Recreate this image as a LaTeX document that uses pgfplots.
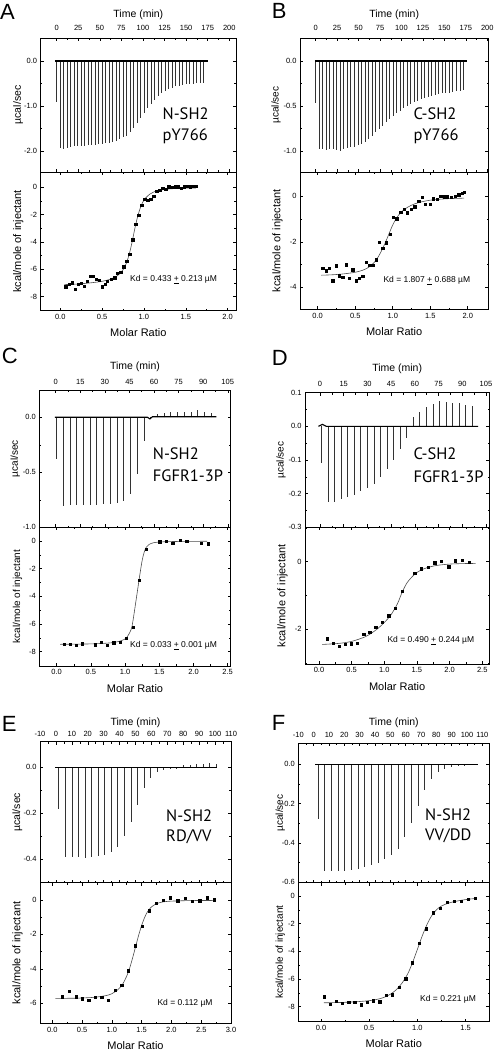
\documentclass[border=0pt]{standalone}
\usepackage{fontspec}
\setmainfont{Liberation Sans}
\newfontfamily\annot{PT Sans}
\usepackage{pgfplots}
\usetikzlibrary{calc}
\pgfplotsset{compat=1.18}
\pgfplotsset{
  ylab off/.style={every axis y label/.style={at={($(axis description cs:0,0.5)+(#1,0pt)$)}, rotate=90, anchor=center}},
  itc/.style={
    scale only axis, anchor=north west,
    axis line style={line width=0.55pt},
    tick style={line width=0.5pt, black},
    major tick length=3pt, minor tick length=1.8pt,
    tick align=inside,
    ticklabel style={font=\fontsize{7.5}{8}\selectfont},
    /pgf/number format/assume math mode=true,
    scaled ticks=false,
    minor x tick num=1, minor y tick num=1,
    ylab off=-22.5pt,
  },
  rawax/.style={itc,
    xticklabel pos=upper,
    yticklabel style={/pgf/number format/.cd, fixed, fixed zerofill, precision=1},
    every axis x label/.style={at={(axis description cs:0.5,1)}, anchor=base},
    label style={font=\fontsize{10.5}{11}\selectfont},
    xlabel={Time (min)}, ylabel={µcal/sec},
  },
  isoax/.style={itc,
    xticklabel style={/pgf/number format/.cd, fixed, fixed zerofill, precision=1},
    every axis x label/.style={at={(axis description cs:0.5,0)}, anchor=base, yshift=-26pt},
    label style={font=\fontsize{11}{12}\selectfont},
    xlabel={Molar Ratio}, ylabel={kcal/mole of injectant},
  },
  spike/.style={ycomb, no marks, line width=0.8pt, black!80},
  base/.style={no marks, line width=1.1pt, black},
  pts/.style={only marks, mark=square*, mark size=1.2pt, black},
  fit/.style={no marks, smooth, line width=0.6pt, black!70},
}
\tikzset{kd/.style={anchor=base west, inner sep=0pt, font=\fontsize{8.5}{9}\selectfont},
  ann/.style={anchor=base west, inner sep=0pt, font=\annot\fontsize{16.5}{17}\selectfont},
  let/.style={anchor=base west, inner sep=0pt, font=\fontsize{22}{22}\selectfont}}
\begin{document}
\begin{tikzpicture}
\path[use as bounding box] (0pt,0pt) rectangle (497pt,-1050pt);

% ---------------- A top
\begin{axis}[rawax, at={(40.7pt,-38pt)}, width=195.3pt, height=134pt,
  xmin=-18.5, xmax=207.8, ymin=-2.467, ymax=0.511,
  xtick={0,25,...,200}, ytick={-2,-1,0},
  xlabel style={yshift=20.7pt}, xticklabel style={yshift=3.5pt}]
\addplot[spike] coordinates {(0,-0.92)(4.06,-1.93)(8.12,-1.95)(12.18,-1.94)(16.24,-1.92)(20.3,-1.90)(24.36,-1.90)(28.42,-1.89)(32.48,-1.88)(36.54,-1.87)(40.6,-1.86)(44.66,-1.86)(48.72,-1.85)(52.78,-1.84)(56.84,-1.83)(60.9,-1.82)(64.96,-1.80)(69.02,-1.77)(73.08,-1.73)(77.14,-1.70)(81.2,-1.66)(85.26,-1.58)(89.32,-1.49)(93.38,-1.38)(97.44,-1.27)(101.5,-1.15)(105.56,-1.05)(109.62,-0.95)(113.68,-0.86)(117.74,-0.78)(121.8,-0.72)(125.86,-0.66)(129.92,-0.62)(133.98,-0.59)(138.04,-0.56)(142.1,-0.55)(146.16,-0.54)(150.22,-0.52)(154.28,-0.51)(158.34,-0.51)(162.4,-0.50)(166.46,-0.49)(170.52,-0.48)};
\addplot[base] coordinates {(-2,0)(175,0)};
\end{axis}
% ---------------- A bottom
\begin{axis}[isoax, at={(40.7pt,-172pt)}, width=195.3pt, height=138.7pt,
  xmin=-0.234, xmax=2.1, ymin=-9.03, ymax=1.12,
  xtick={0,0.5,1,1.5,2}, ytick={-8,-6,-4,-2,0}]
\addplot[pts] coordinates {(0.064,-7.27)(0.104,-7.1)(0.139,-6.98)(0.175,-7.44)(0.211,-7.07)(0.247,-7.02)(0.283,-7.24)(0.323,-6.85)(0.355,-6.49)(0.394,-6.49)(0.43,-6.73)(0.466,-6.78)(0.502,-7.27)(0.538,-7.07)(0.562,-6.88)(0.61,-6.71)(0.649,-6.61)(0.681,-6.29)(0.721,-6.22)(0.757,-5.8)(0.793,-5.41)(0.829,-4.88)(0.865,-3.83)(0.9,-2.68)(0.936,-2.02)(0.972,-1.32)(1.008,-0.85)(1.044,-0.93)(1.08,-0.88)(1.116,-0.63)(1.151,-0.29)(1.187,-0.2)(1.223,-0.07)(1.259,-0.15)(1.295,0.05)(1.331,0)(1.371,0.05)(1.406,0.05)(1.442,-0.07)(1.478,0.05)(1.514,0.1)(1.55,0.05)(1.59,0.1)(1.625,0.1)};
\addplot[fit] coordinates {(0.05,-7.12)(0.2,-7.08)(0.35,-7.0)(0.5,-6.88)(0.6,-6.72)(0.68,-6.48)(0.74,-6.12)(0.79,-5.55)(0.83,-4.75)(0.86,-3.95)(0.89,-3.05)(0.92,-2.25)(0.95,-1.62)(0.98,-1.15)(1.02,-0.78)(1.07,-0.5)(1.12,-0.33)(1.2,-0.2)(1.3,-0.12)(1.45,-0.07)(1.62,-0.05)};
\end{axis}

% ---------------- B top
\begin{axis}[rawax, at={(300pt,-38pt)}, width=188.3pt, height=134pt,
  xmin=-18.3, xmax=201.2, ymin=-1.233, ymax=0.256,
  xtick={0,25,...,200}, ytick={-1,-0.5,0},
  xlabel style={yshift=21pt}, xticklabel style={yshift=3.5pt}, ylab off=-24pt]
\addplot[spike] coordinates {(0,-0.47)(4.1,-0.98)(8.2,-0.98)(12.3,-0.99)(16.4,-0.98)(20.5,-0.98)(24.6,-0.99)(28.7,-1.00)(32.8,-0.98)(36.9,-0.97)(41,-0.96)(45.1,-0.95)(49.2,-0.93)(53.3,-0.92)(57.4,-0.90)(61.5,-0.87)(65.6,-0.83)(69.7,-0.79)(73.8,-0.76)(77.9,-0.72)(82,-0.68)(86.1,-0.64)(90.2,-0.61)(94.3,-0.58)(98.4,-0.55)(102.5,-0.52)(106.6,-0.50)(110.7,-0.48)(114.8,-0.46)(118.9,-0.44)(123,-0.42)(127.1,-0.41)(131.2,-0.40)(135.3,-0.39)(139.4,-0.38)(143.5,-0.37)(147.6,-0.36)(151.7,-0.35)(155.8,-0.35)(159.9,-0.34)(164,-0.33)(168.1,-0.33)(172.2,-0.32)};
\addplot[base] coordinates {(-1,0)(176,0)};
\end{axis}
% ---------------- B bottom
\begin{axis}[isoax, at={(300pt,-172pt)}, width=188.3pt, height=137.3pt,
  xmin=-0.236, xmax=2.274, ymin=-4.97, ymax=1.07,
  xtick={0,0.5,1,1.5,2}, ytick={-4,-2,0}]
\addplot[pts] coordinates {(0.067,-3.15)(0.116,-3.27)(0.156,-3.17)(0.2,-3.72)(0.249,-3.05)(0.289,-3.49)(0.333,-3.55)(0.382,-3.01)(0.422,-3.61)(0.467,-3.23)(0.511,-3.71)(0.556,-3.61)(0.6,-3.52)(0.644,-2.91)(0.689,-3.02)(0.733,-3.04)(0.778,-2.79)(0.822,-2.03)(0.867,-2.29)(0.911,-2.04)(0.964,-1.66)(1.009,-0.92)(1.053,-0.99)(1.107,-0.69)(1.151,-0.57)(1.196,-0.72)(1.249,-0.57)(1.293,-0.45)(1.347,-0.22)(1.391,-0.04)(1.436,-0.34)(1.498,-0.34)(1.542,-0.1)(1.596,-0.13)(1.64,0.01)(1.684,-0.01)(1.729,-0.01)(1.782,-0.04)(1.836,0.01)(1.88,0.07)(1.924,0.13)(1.951,0.19)};
\addplot[fit] coordinates {(0.05,-3.47)(0.2,-3.45)(0.35,-3.41)(0.5,-3.34)(0.6,-3.25)(0.68,-3.12)(0.75,-2.92)(0.8,-2.7)(0.85,-2.4)(0.9,-2.05)(0.95,-1.65)(1.0,-1.26)(1.05,-0.96)(1.1,-0.74)(1.17,-0.54)(1.25,-0.39)(1.35,-0.27)(1.5,-0.17)(1.7,-0.11)(1.95,-0.08)};
\end{axis}

% ---------------- C top
\begin{axis}[rawax, at={(39.3pt,-390pt)}, width=191.4pt, height=137.3pt,
  xmin=-10, xmax=106.8, ymin=-1.0, ymax=0.248,
  xtick={0,15,...,105}, ytick={-1,-0.5,0},
  xlabel style={yshift=20.7pt}, xticklabel style={yshift=1.5pt}, ylab off=-24pt]
\addplot[spike, line width=1pt] coordinates {(0.6,-0.38)(4.7,-0.81)(8.8,-0.80)(12.9,-0.80)(17,-0.80)(21.1,-0.80)(25.2,-0.80)(29.3,-0.79)(33.4,-0.79)(37.5,-0.78)(41.6,-0.76)(45.7,-0.70)(49.8,-0.52)(53.9,-0.22)(58,-0.02)(62.1,0.03)(66.2,0.04)(70.3,0.05)(74.4,0.05)(78.5,0.05)(82.6,0.05)(86.7,0.065)(90.8,0.05)(94.9,0.04)};
\addplot[base] coordinates {(-0.5,0)(56,0)(57.5,-0.015)(59,0.005)(98,0.005)};
\end{axis}
% ---------------- C bottom
\begin{axis}[isoax, at={(39.3pt,-527.3pt)}, width=191.4pt, height=138.7pt,
  xmin=-0.254, xmax=2.544, ymin=-9.04, ymax=0.99,
  xtick={0,0.5,1,1.5,2,2.5}, ytick={-8,-6,-4,-2,0}, ylab off=-21.8pt]
\addplot[pts] coordinates {(0.112,-7.47)(0.195,-7.45)(0.288,-7.52)(0.375,-7.42)(0.56,-7.49)(0.648,-7.33)(0.741,-7.54)(0.833,-7.35)(0.926,-7.3)(1.019,-7.04)(1.116,-6.24)(1.209,-2.82)(1.306,-0.58)(1.506,-0.05)(1.598,0)(1.696,-0.14)(1.803,0.05)(1.9,0)(2.11,-0.17)(2.212,-0.19)};
\addplot[fit] coordinates {(0.05,-7.47)(0.5,-7.44)(0.8,-7.36)(0.95,-7.2)(1.02,-7.0)(1.07,-6.6)(1.1,-6.2)(1.13,-5.3)(1.16,-4.3)(1.19,-3.3)(1.22,-2.3)(1.25,-1.4)(1.28,-0.8)(1.31,-0.45)(1.35,-0.25)(1.42,-0.12)(1.55,-0.06)(1.8,-0.03)(2.2,-0.02)};
\end{axis}

% ---------------- D top
\begin{axis}[rawax, at={(305pt,-392.7pt)}, width=184.3pt, height=134.6pt,
  xmin=-9.5, xmax=107.1, ymin=-0.3, ymax=0.1,
  xtick={0,15,...,105}, ytick={-0.3,-0.2,-0.1,0,0.1},
  xlabel style={yshift=21pt}, xticklabel style={yshift=3pt}, ylab off=-24pt]
\addplot[spike, line width=1pt] coordinates {(1,-0.11)(5.15,-0.226)(9.3,-0.225)(13.45,-0.215)(17.6,-0.21)(21.75,-0.205)(25.9,-0.193)(30.05,-0.182)(34.2,-0.17)(38.35,-0.15)(42.5,-0.128)(46.65,-0.10)(50.8,-0.066)(54.95,-0.035)(59.1,0.028)(63.25,0.042)(67.4,0.057)(71.55,0.066)(75.7,0.076)(79.85,0.072)(84,0.068)(88.15,0.068)(92.3,0.064)(96.45,0.06)};
\addplot[base] coordinates {(-1,0)(1.5,0.006)(4,0)(100,0)};
\end{axis}
% ---------------- D bottom
\begin{axis}[isoax, at={(305pt,-527.3pt)}, width=184.3pt, height=136.7pt,
  xmin=-0.214, xmax=2.608, ymin=-3.03, ymax=1.02,
  xtick={0,0.5,1,1.5,2,2.5}, ytick={-2,0}, minor ytick={-3,-1,1}]
\addplot[pts] coordinates {(0.128,-2.28)(0.219,-2.41)(0.311,-2.51)(0.403,-2.44)(0.495,-2.43)(0.587,-2.41)(0.684,-2.15)(0.776,-2.09)(0.867,-1.94)(0.969,-1.8)(1.066,-1.6)(1.163,-1.38)(1.27,-0.87)(1.464,-0.34)(1.566,-0.21)(1.668,-0.17)(1.77,-0.03)(1.872,0.02)(1.985,-0.15)(2.087,0.03)(2.189,0.04)(2.296,-0.02)};
\addplot[fit] coordinates {(0.05,-2.45)(0.3,-2.42)(0.5,-2.36)(0.7,-2.23)(0.8,-2.12)(0.9,-1.98)(1.0,-1.8)(1.1,-1.58)(1.2,-1.25)(1.27,-0.92)(1.35,-0.62)(1.46,-0.38)(1.55,-0.26)(1.65,-0.18)(1.8,-0.11)(2.0,-0.07)(2.2,-0.055)(2.4,-0.05)};
\end{axis}

% ---------------- E top
\begin{axis}[rawax, at={(40pt,-741.7pt)}, width=191pt, height=141pt,
  xmin=-10, xmax=110, ymin=-0.502, ymax=0.111,
  xtick={-10,0,...,110}, ytick={-0.4,-0.2,0},
  xlabel style={yshift=16.7pt}, xticklabel style={yshift=1.5pt}]
\addplot[spike, line width=1pt] coordinates {(1.9,-0.18)(6.02,-0.39)(10.14,-0.39)(14.26,-0.39)(18.38,-0.395)(22.5,-0.39)(26.62,-0.385)(30.74,-0.38)(34.86,-0.37)(38.98,-0.345)(43.1,-0.30)(47.22,-0.24)(51.34,-0.165)(55.46,-0.09)(59.58,-0.045)(63.7,-0.022)(67.82,-0.012)(71.94,-0.008)(76.06,-0.006)(80.18,0.008)(84.3,0.01)(88.42,0.012)(92.54,0.015)(96.66,0.02)(100.78,0.012)};
\addplot[base] coordinates {(-0.5,0)(101.5,0)};
\end{axis}
% ---------------- E bottom
\begin{axis}[isoax, at={(40pt,-882.7pt)}, width=191pt, height=140.6pt,
  xmin=-0.206, xmax=3.0, ymin=-7.17, ymax=1.0,
  xtick={0,0.5,1,1.5,2,2.5,3}, ytick={-6,-4,-2,0}]
\addplot[pts] coordinates {(0.168,-5.63)(0.28,-5.3)(0.397,-5.63)(0.504,-5.75)(0.61,-5.81)(0.722,-5.65)(0.828,-5.65)(0.94,-5.81)(1.052,-5.23)(1.164,-4.94)(1.276,-4.12)(1.388,-2.67)(1.505,-1.51)(1.628,-0.62)(1.74,-0.19)(1.858,0)(1.98,0.14)(2.103,-0.04)(2.227,0.1)(2.35,-0.08)(2.473,-0.04)(2.597,0.14)(2.72,0.02)};
\addplot[fit] coordinates {(0.05,-5.72)(0.4,-5.71)(0.7,-5.66)(0.9,-5.56)(1.0,-5.45)(1.1,-5.22)(1.18,-4.9)(1.25,-4.42)(1.3,-3.95)(1.35,-3.35)(1.4,-2.7)(1.45,-2.05)(1.5,-1.48)(1.55,-1.02)(1.6,-0.68)(1.66,-0.42)(1.75,-0.22)(1.85,-0.12)(2.0,-0.07)(2.3,-0.04)(2.72,-0.03)};
\end{axis}

% ---------------- F top
\begin{axis}[rawax, at={(298.3pt,-743.3pt)}, width=191pt, height=139.4pt,
  xmin=-10, xmax=114.5, ymin=-0.602, ymax=0.107,
  xtick={-10,0,...,110}, ytick={-0.6,-0.4,-0.2,0},
  xlabel style={yshift=18.3pt}, xticklabel style={yshift=2.5pt}, ylab off=-18pt]
\addplot[spike, line width=1pt] coordinates {(3,-0.28)(7.34,-0.54)(11.68,-0.54)(16.02,-0.54)(20.36,-0.54)(24.7,-0.535)(29.04,-0.53)(33.38,-0.52)(37.72,-0.51)(42.06,-0.50)(46.4,-0.48)(50.74,-0.46)(55.08,-0.43)(59.42,-0.37)(63.76,-0.30)(68.1,-0.21)(72.44,-0.13)(76.78,-0.075)(81.12,-0.04)(85.46,-0.022)(89.8,-0.012)(94.14,-0.008)(98.48,-0.006)(102.82,-0.005)};
\addplot[base] coordinates {(1,0)(107,0)};
\end{axis}
% ---------------- F bottom
\begin{axis}[isoax, at={(298.3pt,-882.7pt)}, width=191pt, height=139pt,
  xmin=-0.235, xmax=1.745, ymin=-9.09, ymax=0.96,
  xtick={0,0.5,1,1.5}, ytick={-8,-6,-4,-2,0}, ylab off=-18pt]
\addplot[pts] coordinates {(0.031,-7.28)(0.093,-7.81)(0.159,-7.61)(0.221,-7.76)(0.287,-7.66)(0.349,-7.66)(0.415,-7.86)(0.48,-7.69)(0.543,-7.57)(0.608,-7.64)(0.674,-7.18)(0.74,-7.13)(0.809,-6.6)(0.878,-5.98)(0.947,-4.82)(1.02,-3.42)(1.089,-2.36)(1.161,-1.2)(1.234,-0.87)(1.307,-0.46)(1.379,-0.39)(1.452,-0.39)(1.524,-0.22)(1.6,-0.14)};
\addplot[fit] coordinates {(0.03,-7.72)(0.2,-7.7)(0.4,-7.63)(0.55,-7.52)(0.65,-7.34)(0.72,-7.1)(0.78,-6.78)(0.84,-6.3)(0.9,-5.62)(0.95,-4.8)(1.0,-3.85)(1.05,-2.88)(1.1,-2.05)(1.15,-1.4)(1.2,-0.98)(1.25,-0.72)(1.32,-0.52)(1.4,-0.38)(1.5,-0.26)(1.6,-0.18)};
\end{axis}

% panel letters
\node[let] at (0pt,-19.3pt) {A};
\node[let] at (271.7pt,-18.3pt) {B};
\node[let] at (1.7pt,-363.3pt) {C};
\node[let] at (271.7pt,-365pt) {D};
\node[let] at (1.7pt,-731.7pt) {E};
\node[let] at (271.7pt,-730pt) {F};
% annotations
\node[ann] at (162.5pt,-119pt) {N-SH2};
\node[ann] at (162.5pt,-140pt) {pY766};
\node[ann] at (413.3pt,-119pt) {C-SH2};
\node[ann] at (413.3pt,-140pt) {pY766};
\node[ann] at (152.7pt,-459pt) {N-SH2};
\node[ann] at (152.7pt,-481pt) {FGFR1-3P};
\node[ann] at (413.3pt,-459pt) {C-SH2};
\node[ann] at (413.3pt,-482.7pt) {FGFR1-3P};
\node[ann] at (166pt,-821.7pt) {N-SH2};
\node[ann] at (166pt,-841.7pt) {RD/VV};
\node[ann] at (425pt,-820pt) {N-SH2};
\node[ann] at (425pt,-840.7pt) {VV/DD};
% Kd
\node[kd] at (130pt,-281.7pt) {Kd = 0.433 \underline{+} 0.213 µM};
\node[kd] at (383.3pt,-282.3pt) {Kd = 1.807 \underline{+} 0.688 µM};
\node[kd] at (130pt,-647.3pt) {Kd = 0.033 \underline{+} 0.001 µM};
\node[kd] at (387.3pt,-642.3pt) {Kd = 0.490 \underline{+} 0.244 µM};
\node[kd] at (157.3pt,-1005.7pt) {Kd = 0.112 µM};
\node[kd] at (420pt,-1001.7pt) {Kd = 0.221 µM};
\end{tikzpicture}
\end{document}
